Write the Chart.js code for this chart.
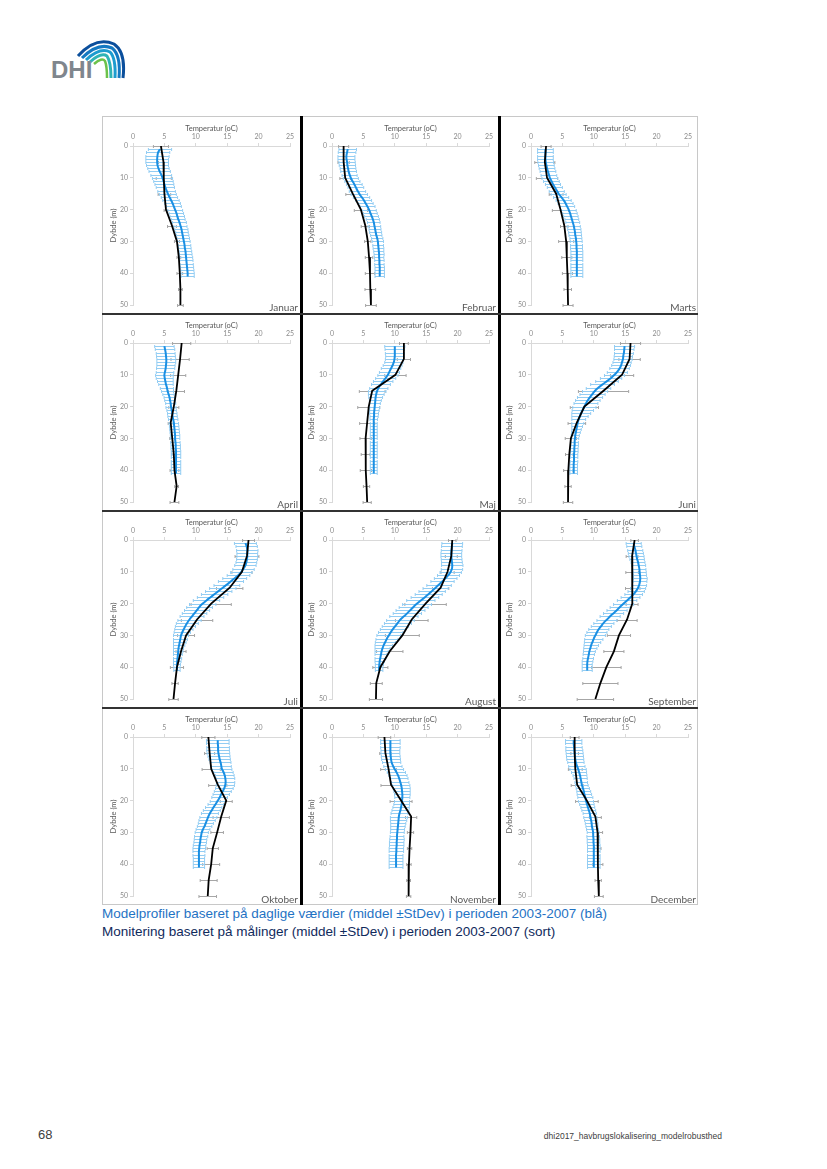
<!DOCTYPE html>
<html>
<head>
<meta charset="utf-8">
<title>Temperaturprofiler</title>
<script src="https://cdn.jsdelivr.net/npm/chart.js@4.4.0/dist/chart.umd.min.js"></script>
<style>
  body{margin:0;background:#fff;width:827px;height:1169px;position:relative;overflow:hidden;font-family:"Liberation Sans",Arial,sans-serif;}
  #logo{position:absolute;left:48px;top:36px;}
  #grid{position:absolute;left:102px;top:116px;width:596px;height:789px;border:1px solid #c8c8c8;box-sizing:border-box;}
  .panel{position:absolute;}
  .panel canvas{position:absolute;left:0;top:0;}
  .month{position:absolute;right:3px;bottom:2px;font:10px Lato,sans-serif;color:#595959;line-height:1;}
  .vsep{position:absolute;top:-1px;width:3px;height:789px;background:#000;z-index:2;}
  .hsep{position:absolute;left:-1px;width:596px;height:2px;background:#333;z-index:2;}
  .cap{position:absolute;left:102px;font-size:13.5px;white-space:nowrap;}
  #cap1{top:906px;color:#1f73c4;}
  #cap2{top:924px;color:#102a5c;}
  #pageno{position:absolute;left:38px;top:1127px;font-size:13px;color:#404040;}
  #docname{position:absolute;right:105px;top:1131px;font-size:8.5px;color:#404040;}
</style>
</head>
<body>
<svg id="logo" width="80" height="46" viewBox="0 0 80 46">
  <path d="M30 20 Q48 0 66 8 Q78 16 75 42" fill="none" stroke="#0b4f9c" stroke-width="3"/>
  <path d="M34 22 Q50 6 64 12 Q73 19 71 42" fill="none" stroke="#1479c2" stroke-width="3"/>
  <path d="M38 24 Q52 11 62 16 Q68 22 67 42" fill="none" stroke="#1d9ccf" stroke-width="3"/>
  <path d="M42 26 Q53 16 59 20 Q63 26 63 42" fill="none" stroke="#2fb3b5" stroke-width="3"/>
  <path d="M46 28 Q54 21 57 25 Q59 30 59 42" fill="none" stroke="#6cc24a" stroke-width="2.5"/>
  <text x="3" y="42" font-family="Liberation Sans, Arial" font-weight="bold" font-size="24" fill="#7f868d">DHI</text>
</svg>

<div id="grid"></div>

<div class="cap" id="cap1">Modelprofiler baseret på daglige værdier (middel ±StDev) i perioden 2003-2007 (blå)</div>
<div class="cap" id="cap2">Monitering baseret på målinger (middel ±StDev) i perioden 2003-2007 (sort)</div>
<div id="pageno">68</div>
<div id="docname">dhi2017_havbrugslokalisering_modelrobusthed</div>

<script>
// ---- data ----
const months = ['Januar','Februar','Marts','April','Maj','Juni','Juli','August','September','Oktober','November','December'];
const modelDepth = [1,2,3,4,5,6,7,8,9,10,11,12,13,14,15,16,17,18,19,20,21,22,23,24,25,26,27,28,29,30,31,32,33,34,35,36,37,38,39,40,41];
const obsDepth = [0,5,10,15,20,25,30,35,40,45,50];

// model mean (blue) and StDev per month
const modelJan = [4.3,4.0,3.9,3.85,3.85,3.9,4.05,4.25,4.5,4.7,4.85,5.0,5.15,5.35,5.55,5.8,6.05,6.3,6.5,6.7,6.9,7.05,7.2,7.4,7.55,7.7,7.8,7.9,8.0,8.1,8.2,8.25,8.35,8.4,8.45,8.5,8.55,8.6,8.65,8.7,8.7];
const modelJanSd = [1.85,1.85,1.85,1.8,1.8,1.75,1.7,1.7,1.65,1.6,1.55,1.5,1.45,1.4,1.35,1.3,1.3,1.25,1.2,1.2,1.15,1.15,1.1,1.1,1.05,1.05,1.0,1.0,1.0,1.0,1.0,1.0,1.0,1.0,1.05,1.05,1.05,1.05,1.05,1.05,1.05];
const modelFeb = [2.5,2.4,2.3,2.3,2.4,2.45,2.55,2.65,2.8,3.0,3.25,3.55,3.8,4.05,4.35,4.7,5.05,5.35,5.65,5.9,6.1,6.3,6.5,6.65,6.75,6.85,6.95,7.05,7.2,7.3,7.35,7.4,7.45,7.5,7.5,7.55,7.55,7.6,7.6,7.6,7.6];
const modelFebSd = [1.4,1.4,1.35,1.35,1.3,1.3,1.25,1.25,1.2,1.2,1.2,1.25,1.25,1.3,1.3,1.3,1.25,1.2,1.2,1.15,1.1,1.1,1.05,1.0,1.0,0.95,0.95,0.9,0.9,0.9,0.85,0.85,0.8,0.8,0.75,0.75,0.75,0.75,0.75,0.75,0.75];
const modelMar = [2.3,2.3,2.3,2.3,2.35,2.45,2.55,2.7,2.85,3.0,3.25,3.5,3.8,4.1,4.4,4.8,5.2,5.5,5.75,6.0,6.2,6.35,6.5,6.65,6.8,6.9,7.0,7.05,7.15,7.2,7.25,7.25,7.3,7.3,7.3,7.3,7.3,7.3,7.3,7.3,7.3];
const modelMarSd = [1.25,1.25,1.25,1.25,1.25,1.25,1.25,1.25,1.25,1.25,1.25,1.2,1.2,1.2,1.2,1.2,1.2,1.2,1.2,1.2,1.15,1.15,1.1,1.1,1.05,1.05,1.0,1.0,0.95,0.95,0.95,0.95,0.95,0.95,0.95,0.95,0.95,0.95,0.95,0.95,0.95];
const modelApr = [5.0,5.1,5.2,5.25,5.3,5.3,5.25,5.2,5.1,5.0,5.05,5.15,5.25,5.4,5.5,5.65,5.8,5.9,6.0,6.05,6.15,6.25,6.3,6.4,6.5,6.55,6.6,6.65,6.7,6.7,6.75,6.8,6.8,6.85,6.85,6.85,6.85,6.85,6.85,6.85,6.85];
const modelAprSd = [1.55,1.55,1.5,1.5,1.5,1.5,1.45,1.45,1.4,1.4,1.35,1.25,1.15,1.05,0.95,0.9,0.85,0.85,0.8,0.8,0.75,0.75,0.75,0.75,0.75,0.75,0.75,0.75,0.75,0.75,0.75,0.75,0.75,0.75,0.75,0.75,0.75,0.75,0.75,0.75,0.75];
const modelMaj = [10.0,10.0,10.0,10.0,9.95,9.85,9.65,9.4,9.15,8.9,8.55,8.15,7.8,7.45,7.2,7.05,6.95,6.9,6.85,6.8,6.75,6.7,6.7,6.65,6.65,6.65,6.65,6.65,6.65,6.65,6.65,6.65,6.65,6.65,6.65,6.65,6.65,6.65,6.65,6.65,6.65];
const modelMajSd = [1.6,1.55,1.5,1.45,1.45,1.45,1.5,1.55,1.6,1.6,1.6,1.55,1.5,1.45,1.4,1.25,1.1,0.95,0.85,0.8,0.75,0.7,0.65,0.6,0.55,0.55,0.55,0.55,0.55,0.55,0.55,0.55,0.55,0.55,0.55,0.55,0.55,0.55,0.55,0.55,0.55];
const modelJun = [14.9,14.85,14.8,14.7,14.65,14.5,14.35,14.1,13.75,13.3,12.75,12.1,11.4,10.75,10.2,9.8,9.4,9.05,8.75,8.5,8.25,8.0,7.8,7.6,7.45,7.35,7.25,7.15,7.05,7.0,6.95,6.95,6.9,6.9,6.85,6.85,6.85,6.8,6.8,6.8,6.8];
const modelJunSd = [1.6,1.55,1.5,1.45,1.45,1.45,1.5,1.55,1.6,1.6,1.7,1.8,1.9,1.95,2.0,2.0,2.0,1.95,1.9,1.85,1.7,1.5,1.3,1.1,0.95,0.85,0.75,0.7,0.65,0.6,0.6,0.6,0.6,0.6,0.6,0.6,0.6,0.6,0.6,0.6,0.6];
const modelJul = [17.9,18.1,18.2,18.2,18.2,18.15,18.05,17.9,17.6,17.25,16.8,16.2,15.6,14.95,14.3,13.65,13.0,12.35,11.7,11.1,10.6,10.2,9.8,9.4,9.0,8.65,8.35,8.1,7.85,7.65,7.55,7.45,7.35,7.25,7.2,7.15,7.1,7.05,7.0,7.0,7.0];
const modelJulSd = [1.75,1.7,1.7,1.65,1.65,1.65,1.65,1.7,1.7,1.7,1.8,1.9,2.0,2.05,2.1,2.1,2.1,2.1,2.1,2.1,2.05,2.0,1.95,1.9,1.85,1.75,1.6,1.45,1.3,1.2,1.1,1.0,0.9,0.8,0.75,0.7,0.65,0.6,0.55,0.5,0.5];
const modelAug = [19.15,19.1,19.05,19.0,19.0,19.05,19.1,19.15,19.1,18.9,18.55,18.1,17.6,17.05,16.5,15.95,15.4,14.8,14.15,13.55,13.0,12.5,12.0,11.45,10.9,10.5,10.1,9.7,9.35,9.05,8.75,8.5,8.25,8.05,7.9,7.8,7.7,7.6,7.55,7.5,7.5];
const modelAugSd = [1.65,1.65,1.65,1.65,1.65,1.65,1.65,1.7,1.7,1.7,1.75,1.8,1.85,1.95,2.0,2.1,2.15,2.2,2.25,2.3,2.3,2.3,2.25,2.25,2.2,2.15,2.1,2.0,1.95,1.9,1.75,1.6,1.4,1.2,1.05,0.95,0.85,0.75,0.65,0.6,0.6];
const modelSep = [16.35,16.45,16.6,16.7,16.8,16.9,17.05,17.15,17.25,17.3,17.35,17.4,17.35,17.25,17.05,16.75,16.35,15.85,15.3,14.75,14.2,13.7,13.15,12.6,12.1,11.6,11.2,10.8,10.5,10.25,10.0,9.8,9.6,9.45,9.3,9.2,9.1,9.0,8.95,8.95,8.95];
const modelSepSd = [1.2,1.2,1.2,1.2,1.2,1.15,1.1,1.1,1.05,1.05,1.05,1.1,1.1,1.15,1.2,1.3,1.4,1.5,1.55,1.6,1.6,1.6,1.6,1.6,1.6,1.6,1.6,1.6,1.6,1.6,1.45,1.3,1.15,1.05,0.95,0.9,0.85,0.85,0.8,0.8,0.8];
const modelOkt = [13.5,13.5,13.55,13.55,13.6,13.7,13.8,13.95,14.05,14.15,14.4,14.6,14.7,14.75,14.7,14.55,14.3,14.05,13.8,13.5,13.2,12.85,12.55,12.25,12.0,11.8,11.6,11.4,11.15,10.95,10.85,10.75,10.7,10.6,10.55,10.5,10.5,10.5,10.5,10.5,10.5];
const modelOktSd = [1.8,1.8,1.8,1.8,1.8,1.75,1.7,1.65,1.6,1.6,1.55,1.5,1.5,1.45,1.45,1.4,1.35,1.3,1.25,1.2,1.25,1.3,1.35,1.35,1.35,1.3,1.2,1.15,1.1,1.05,1.05,1.0,1.0,1.0,1.0,0.95,0.95,0.9,0.9,0.9,0.9];
const modelNov = [9.3,9.3,9.3,9.3,9.3,9.35,9.4,9.5,9.7,9.95,10.25,10.5,10.7,10.85,11.0,11.1,11.15,11.2,11.2,11.15,11.1,11.0,10.9,10.75,10.65,10.6,10.55,10.5,10.45,10.4,10.35,10.35,10.3,10.3,10.25,10.25,10.2,10.2,10.2,10.2,10.2];
const modelNovSd = [1.55,1.55,1.55,1.5,1.5,1.5,1.5,1.45,1.45,1.45,1.45,1.45,1.4,1.4,1.4,1.35,1.3,1.25,1.2,1.2,1.25,1.3,1.35,1.35,1.35,1.3,1.2,1.15,1.1,1.1,1.1,1.15,1.15,1.15,1.15,1.15,1.1,1.1,1.1,1.1,1.1];
const modelDec = [6.8,6.8,6.85,6.9,6.95,7.0,7.05,7.15,7.3,7.5,7.65,7.8,7.9,8.0,8.1,8.25,8.4,8.5,8.65,8.75,8.9,9.05,9.2,9.35,9.45,9.55,9.65,9.7,9.8,9.9,9.9,9.95,9.95,10.0,10.0,10.0,10.0,10.0,10.0,10.0,10.0];
const modelDecSd = [1.3,1.3,1.3,1.35,1.35,1.35,1.35,1.3,1.3,1.3,1.2,1.1,1.05,1.0,1.0,1.05,1.1,1.15,1.2,1.2,1.15,1.1,1.1,1.05,1.05,1.0,1.0,0.95,0.95,0.95,1.0,1.0,1.0,1.0,1.0,1.0,1.0,1.0,1.0,1.0,1.0];

// monitoring mean (black) and StDev per month
const obsJan = [4.45,4.85,4.9,5.0,5.25,6.2,7.0,7.3,7.45,7.55,7.55];
const obsJanSd = [1.2,0.8,1.2,1.0,0.3,0.7,0.4,0.3,0.45,0.3,0.45];
const obsFeb = [1.85,1.85,2.1,3.3,4.6,5.3,5.7,5.9,6.05,6.1,6.2];
const obsFebSd = [0.8,0.9,0.85,1.1,1.05,0.65,0.5,0.6,0.75,0.85,0.85];
const obsMar = [2.4,2.2,2.55,4.0,4.7,5.3,5.6,5.7,5.8,5.85,5.9];
const obsMarSd = [0.8,1.6,1.7,1.1,1.3,0.6,1.2,0.8,0.8,0.6,0.8];
const obsApr = [7.75,7.5,7.2,6.9,6.5,6.0,6.25,6.5,6.6,6.95,6.6];
const obsAprSd = [1.45,1.45,1.2,1.3,0.8,0.4,0.4,0.3,0.7,0.3,0.7];
const obsMaj = [11.45,11.45,10.1,6.4,5.85,5.6,5.35,5.35,5.4,5.5,5.6];
const obsMajSd = [0.7,1.05,1.7,2.05,1.75,1.2,0.9,0.7,0.9,0.5,0.65];
const obsJun = [15.85,15.7,14.5,11.55,8.5,7.3,6.35,6.1,5.95,5.9,5.9];
const obsJunSd = [1.6,1.7,1.85,4.0,2.25,1.4,0.9,0.6,0.75,0.5,0.75];
const obsJul = [18.4,18.15,17.35,15.4,12.45,10.2,8.45,7.65,7.0,6.7,6.45];
const obsJulSd = [0.95,1.9,1.6,2.1,3.2,2.5,1.35,0.8,1.05,0.5,0.75];
const obsAug = [19.15,19.0,18.4,17.3,14.9,12.7,11.2,9.2,7.7,7.05,7.0];
const obsAugSd = [0.6,0.95,1.05,1.3,3.3,2.6,2.7,2.1,1.2,0.95,1.05];
const obsSep = [16.5,16.1,16.1,16.2,16.1,15.3,14.0,13.2,12.0,11.05,10.25];
const obsSepSd = [0.6,0.95,1.0,1.15,0.95,1.6,1.85,1.6,2.35,2.8,2.9];
const obsOkt = [12.0,12.2,12.45,13.5,14.85,14.05,13.4,12.7,12.45,12.05,11.9];
const obsOktSd = [1.05,0.8,1.45,1.45,0.95,1.3,1.0,0.9,1.35,1.35,1.4];
const obsNov = [8.35,8.5,9.0,9.4,11.0,12.6,12.5,12.35,12.25,12.2,12.2];
const obsNovSd = [1.0,0.9,1.25,1.6,1.75,0.9,0.5,0.35,0.35,0.3,0.35];
const obsDec = [6.95,6.95,7.05,7.35,8.9,10.25,10.6,10.65,10.65,10.7,10.8];
const obsDecSd = [0.7,0.6,1.1,0.95,1.8,0.95,0.8,0.5,0.8,0.5,0.7];

(function(){
  const grid = document.getElementById('grid');

  const model = [modelJan,modelFeb,modelMar,modelApr,modelMaj,modelJun,modelJul,modelAug,modelSep,modelOkt,modelNov,modelDec];
  const modelSd = [modelJanSd,modelFebSd,modelMarSd,modelAprSd,modelMajSd,modelJunSd,modelJulSd,modelAugSd,modelSepSd,modelOktSd,modelNovSd,modelDecSd];
  const obs = [obsJan,obsFeb,obsMar,obsApr,obsMaj,obsJun,obsJul,obsAug,obsSep,obsOkt,obsNov,obsDec];
  const obsSd = [obsJanSd,obsFebSd,obsMarSd,obsAprSd,obsMajSd,obsJunSd,obsJulSd,obsAugSd,obsSepSd,obsOktSd,obsNovSd,obsDecSd];

  // panel geometry inside the frame
  const colLeft = [0,198,396], colW = [198,198,200];
  const rowTop = [0,197,394,591], rowH = [197,197,197,198];
  const plotLeft = [30,31,32], plotRight = [187,188,189];
  const plotTop = 29, plotBottom = 188;

  // horizontal StDev bars with small caps, drawn under the lines
  const errorBars = {
    id: 'errorBars',
    beforeDatasetsDraw(chart){
      const {ctx} = chart;
      const xs = chart.scales.x, ys = chart.scales.y;
      chart.data.datasets.forEach(ds => {
        if(!ds.errors) return;
        ctx.save();
        ctx.strokeStyle = ds.errorColor;
        ctx.lineWidth = 1;
        ds.data.forEach((p,i) => {
          const e = ds.errors[i];
          const py = Math.round(ys.getPixelForValue(p.y)) + 0.5;
          const x0 = xs.getPixelForValue(p.x - e);
          const x1 = xs.getPixelForValue(p.x + e);
          ctx.beginPath();
          ctx.moveTo(x0, py); ctx.lineTo(x1, py);
          ctx.moveTo(x0, py-1.5); ctx.lineTo(x0, py+1.5);
          ctx.moveTo(x1, py-1.5); ctx.lineTo(x1, py+1.5);
          ctx.stroke();
        });
        ctx.restore();
      });
    }
  };

  const tickFont = {family:'Lato', size:7};
  const titleFont = {family:'Lato', size:7.5};

  months.forEach((name, k) => {
    const c = k % 3, r = Math.floor(k / 3);
    const W = colW[c], H = rowH[r];
    const panel = document.createElement('div');
    panel.className = 'panel';
    panel.style.left = colLeft[c] + 'px';
    panel.style.top = rowTop[r] + 'px';
    panel.style.width = W + 'px';
    panel.style.height = H + 'px';
    const canvas = document.createElement('canvas');
    canvas.width = W; canvas.height = H;
    panel.appendChild(canvas);
    const lbl = document.createElement('div');
    lbl.className = 'month';
    lbl.textContent = name;
    panel.appendChild(lbl);
    grid.appendChild(panel);

    const obsPts = obsDepth.map((d,i) => ({x: obs[k][i], y: d}));
    const modPts = modelDepth.map((d,i) => ({x: model[k][i], y: d}));

    new Chart(canvas.getContext('2d'), {
      type: 'scatter',
      data: {
        datasets: [
          {label:'Monitering', data: obsPts, showLine:true, borderColor:'#000', borderWidth:1.8,
           pointRadius:0, tension:0, errors: obsSd[k], errorColor:'#a6a6a6'},
          {label:'Model', data: modPts, showLine:true, borderColor:'#1a8fe3', borderWidth:2,
           pointRadius:0, tension:0.4, errors: modelSd[k], errorColor:'#93cdf3'}
        ]
      },
      options: {
        responsive:false, animation:false, events:[],
        layout:{padding:{left:0, top:0, right: W - plotRight[c], bottom: H - plotBottom}},
        plugins:{legend:{display:false}, tooltip:{enabled:false}},
        scales:{
          x:{type:'linear', position:'top', min:0, max:25,
             ticks:{stepSize:5, font:tickFont, color:'#8c8c8c', padding:2, maxRotation:0},
             grid:{drawOnChartArea:false, tickLength:3, color:'#d9d9d9'},
             border:{color:'#d9d9d9'},
             title:{display:true, text:'Temperatur (oC)', font:titleFont, color:'#595959', padding:{top:7,bottom:0}},
             afterFit(s){ s.height = plotTop; }},
          y:{type:'linear', reverse:true, min:0, max:50,
             ticks:{stepSize:10, font:tickFont, color:'#8c8c8c', padding:2},
             grid:{drawOnChartArea:false, tickLength:3, color:'#d9d9d9'},
             border:{color:'#d9d9d9'},
             title:{display:true, text:'Dybde (m)', font:titleFont, color:'#595959', padding:{top:6,bottom:0}},
             afterFit(s){ s.width = plotLeft[c]; }}
        }
      },
      plugins:[errorBars]
    });
  });

  // cell borders of the figure table
  [197,395].forEach(x => {
    const d = document.createElement('div'); d.className = 'vsep'; d.style.left = x + 'px'; grid.appendChild(d);
  });
  [196,393,590].forEach(y => {
    const d = document.createElement('div'); d.className = 'hsep'; d.style.top = y + 'px'; grid.appendChild(d);
  });
})();
</script>
</body>
</html>
